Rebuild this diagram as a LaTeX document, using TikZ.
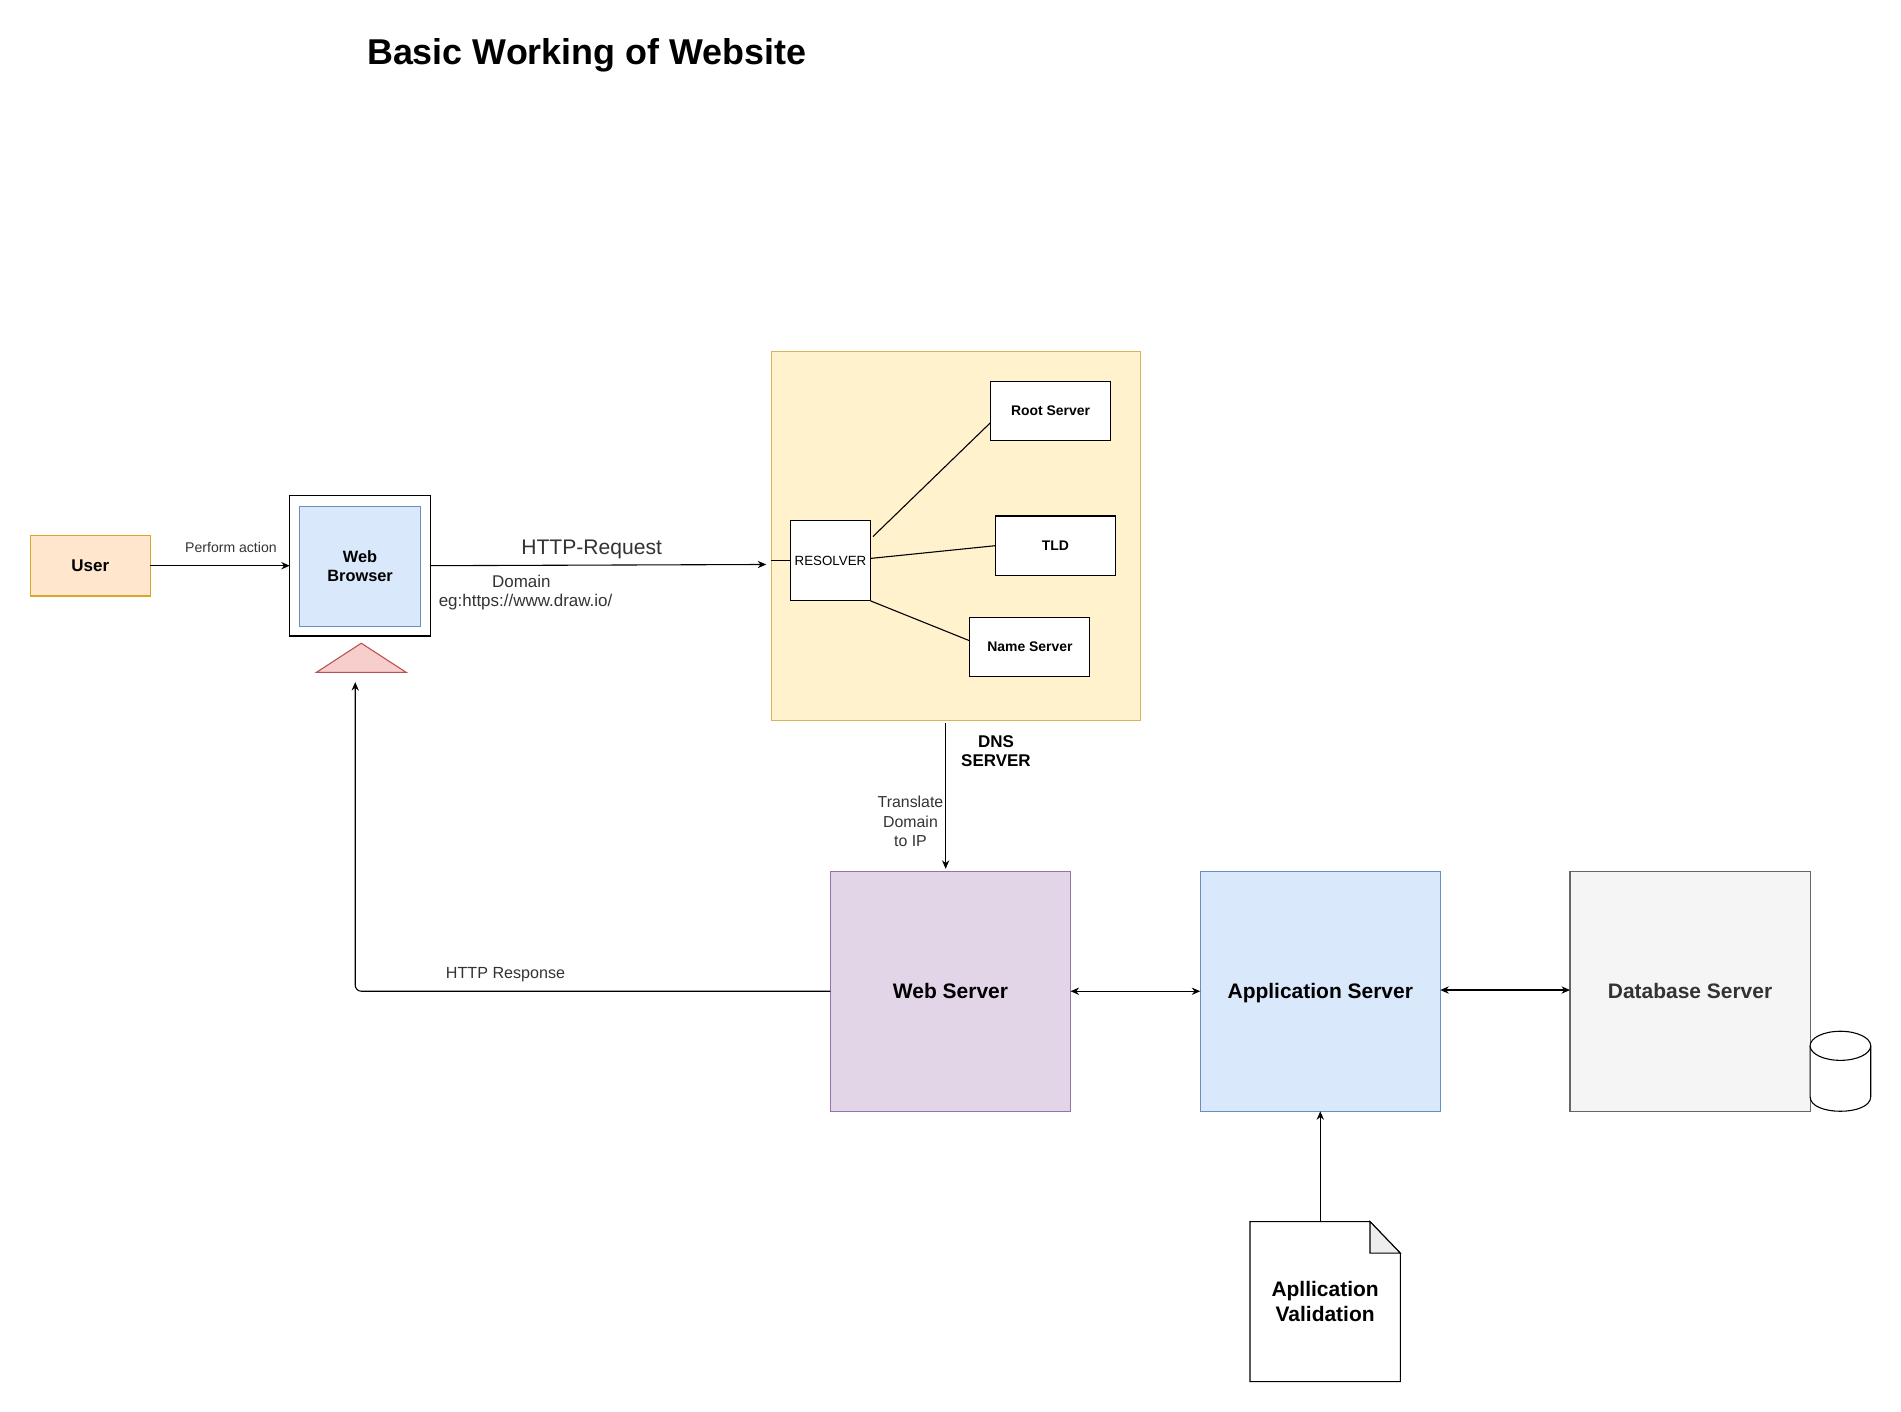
\documentclass[tikz,border=0pt]{standalone}
\usepackage{fontspec}
\setmainfont{Liberation Sans}
\usetikzlibrary{arrows.meta,positioning,shapes.geometric}

\definecolor{userfill}{HTML}{FFE6CC}
\definecolor{userline}{HTML}{D7A72B}
\definecolor{bluefill}{HTML}{DAE8FC}
\definecolor{blueline}{HTML}{6C8EBF}
\definecolor{dnsfill}{HTML}{FFF2CC}
\definecolor{dnsline}{HTML}{D6B656}
\definecolor{purplefill}{HTML}{E1D5E7}
\definecolor{purpleline}{HTML}{9673A6}
\definecolor{greyfill}{HTML}{F5F5F5}
\definecolor{greyline}{HTML}{666666}
\definecolor{redfill}{HTML}{F8CECC}
\definecolor{redline}{HTML}{B85450}
\definecolor{greytext}{HTML}{333333}

\begin{document}
\begin{tikzpicture}[
  x=1pt, y=-1pt, line width=0.9pt,
  box/.style={draw, inner sep=0pt, outer sep=0pt, align=center},
  smallbox/.style={box, fill=white, minimum width=99pt, minimum height=49pt,
                   font=\fontsize{11.5}{13}\selectfont\bfseries},
  bigbox/.style={box, minimum width=198pt, minimum height=198pt, text height=12pt, text depth=0pt,
                 font=\fontsize{17.3}{20}\selectfont\bfseries},
  note/.style={inner sep=0pt, align=center, font=\fontsize{13.3}{16}\selectfont, text=greytext},
  arrow/.style={-{Stealth[length=7pt,width=6pt]}},
  both/.style={{Stealth[length=7pt,width=6pt]}-{Stealth[length=7pt,width=6pt]}}
]
\useasboundingbox (0,-0.6) rectangle (1568,1163.4);

\node[inner sep=0pt, text height=21pt, text depth=0pt,
      font=\fontsize{29.6}{36}\selectfont\bfseries] (title) at (484,42) {Basic Working of Website};

% browser side
\node[box, fill=userfill, draw=userline, minimum width=99pt, minimum height=50pt,
      font=\fontsize{14}{16}\selectfont\bfseries] (user) at (74.5,466) {User};
\node[box, fill=white, minimum width=116pt, minimum height=116pt] (browser) at (297,466) {};
\node[box, fill=bluefill, draw=blueline, minimum width=100pt, minimum height=99pt,
      font=\fontsize{13.5}{16}\selectfont\bfseries] (page) at (297,466.5) {Web\\Browser};
\node[box, fill=redfill, draw=redline, isosceles triangle, isosceles triangle apex angle=114,
      shape border rotate=90, minimum height=24pt, minimum width=74pt] (stand) at (298,543) {};

% dns
\node[box, fill=dnsfill, draw=dnsline, minimum width=305pt, minimum height=305pt] (dns) at (788.5,441.5) {};
\node[box, fill=white, minimum width=66pt, minimum height=66pt,
      font=\fontsize{11}{13}\selectfont] (resolver) at (685,462) {RESOLVER};
\node[smallbox] (root) at (866.5,338.5) {Root Server};
\node[smallbox] (tld) at (870.5,449.5) {TLD};
\node[smallbox] (name) at (849.5,533) {Name Server};

% servers
\node[bigbox, fill=purplefill, draw=purpleline] (web) at (784,817) {Web Server};
\node[bigbox, fill=bluefill, draw=blueline] (app) at (1089,817) {Application Server};
\node[bigbox, fill=greyfill, draw=greyline, text=greytext] (db) at (1394,817) {Database Server};

% cylinder
\draw[fill=white] (1493,862) -- (1493,904) .. controls (1493,920) and (1543,920) .. (1543,904) -- (1543,862);
\draw[fill=white] (1518,862) ellipse[x radius=25, y radius=12];

% document shape
\node[inner sep=0pt, outer sep=0pt, minimum width=124pt, minimum height=132pt, align=center,
      font=\fontsize{17.3}{20}\selectfont\bfseries] (doc) at (1093,1073) {Apllication\\Validation};
\draw (doc.north west) -- ([xshift=-25pt]doc.north east) -- ([yshift=-26pt]doc.north east)
  -- (doc.south east) -- (doc.south west) -- cycle;
\draw[fill=black!7] ([xshift=-25pt]doc.north east) -- ([yshift=-26pt]doc.north east)
  -- ([xshift=-25pt,yshift=-26pt]doc.north east) -- cycle;

\coordinate (reqtip) at (632,465);
\coordinate (dnsout) at (780,596);
\coordinate (backtip) at (293,562);

\draw[arrow] (user) -- (user -| browser.west);
\draw[arrow] (browser.east) -- (reqtip);
\draw (dns.west |- resolver.west) -- (resolver.west);
\draw ([xshift=2pt,yshift=-13pt]resolver.north east) -- ([yshift=-9.5pt]root.west);
\draw ([yshift=2pt]resolver.east) -- (tld.west);
\draw (resolver.south east) -- ([yshift=5pt]name.west);
\draw[arrow] (dnsout) -- ([xshift=-4pt,yshift=2pt]web.north);
\draw[arrow, rounded corners=5pt] (web.west) -| (backtip);
\draw[both] (web.east) -- (app.west);
\draw[both] ([yshift=1pt]app.east) -- ([yshift=1pt]db.west);
\draw[arrow] (doc.north -| app.south) -- (app.south);

\node[note, font=\fontsize{11.6}{14}\selectfont] (actionlbl) at (190.5,451) {Perform action};
\node[note, text height=12pt, text depth=0pt, font=\fontsize{17.4}{20}\selectfont] (reqlbl) at (488,451) {HTTP-Request};
\node[note, font=\fontsize{14}{16}\selectfont] (domainlbl) at (433.5,488) {\hspace*{-7pt}Domain\\eg:https://www.draw.io/};
\node[inner sep=0pt, align=center, font=\fontsize{14}{16}\selectfont\bfseries] (dnslbl) at (821.5,619) {DNS\\SERVER};
\node[note, font=\fontsize{13.1}{16}\selectfont] (translbl) at (751,677) {Translate\\Domain\\to IP};
\node[note] (resplbl) at (417,803) {HTTP Response};
\end{tikzpicture}
\end{document}
